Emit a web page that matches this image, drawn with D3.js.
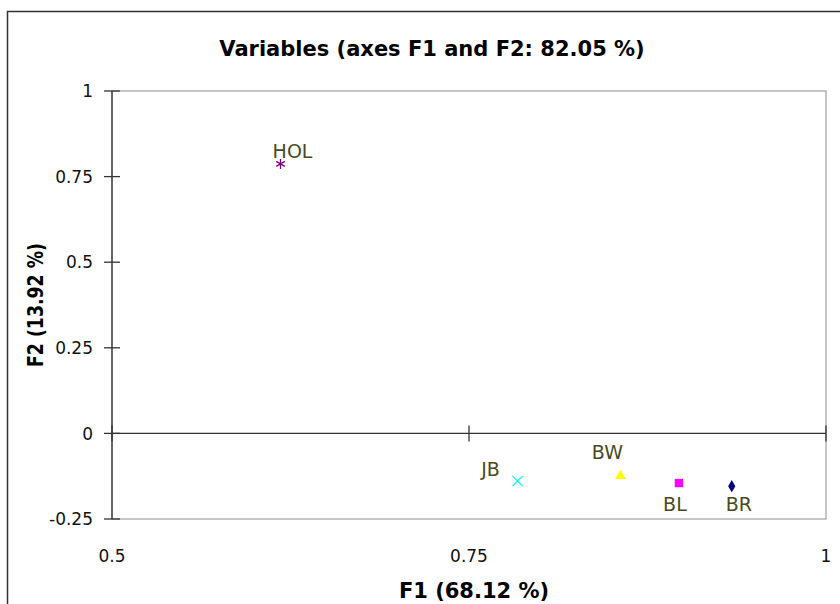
<!DOCTYPE html>
<html>
<head>
<meta charset="utf-8">
<script src="https://cdn.jsdelivr.net/npm/d3@7"></script>
<style>
  body { margin: 0; background: #fff; }
  svg { font-family: "DejaVu Sans", sans-serif; }
</style>
</head>
<body>
<div id="chart"></div>
<script>
const names = ['HOL', 'JB', 'BW', 'BL', 'BR'];
const f1 = [0.618, 0.784, 0.856, 0.897, 0.934];
const f2 = [0.787, -0.139, -0.124, -0.145, -0.154];
const shapes = ['asterisk', 'cross', 'triangle', 'square', 'diamond'];
const colors = ['#800080', '#00ffff', '#ffff00', '#ff00ff', '#000080'];
// label offsets relative to the point
const labelDx = [12, -27, -13, -4, 7];
const labelDy = [-6, -5, -17, 28, 25];

const xTicks = [0.5, 0.75, 1];
const yTicks = [1, 0.75, 0.5, 0.25, 0, -0.25];

const width = 840, height = 604;
const plot = { left: 112, right: 826, top: 91, bottom: 519 };

const svg = d3.select('#chart')
  .append('svg')
  .attr('width', width)
  .attr('height', height);

// outer chart border
svg.append('rect')
  .attr('x', 7.5).attr('y', 11.5)
  .attr('width', 840).attr('height', 600)
  .attr('fill', 'none')
  .attr('stroke', '#333')
  .attr('stroke-width', 1.5);

const x = d3.scaleLinear().domain([0.5, 1]).range([plot.left, plot.right]);
const y = d3.scaleLinear().domain([-0.25, 1]).range([plot.bottom, plot.top]);

// plot area frame
svg.append('rect')
  .attr('x', plot.left).attr('y', plot.top)
  .attr('width', plot.right - plot.left).attr('height', plot.bottom - plot.top)
  .attr('fill', 'none')
  .attr('stroke', '#a0a0a0')
  .attr('stroke-width', 1.2);

const fmt = d => String(d);

// y axis at x = 0.5
const yAxis = svg.append('g').attr('transform', `translate(${plot.left},0)`);
yAxis.append('line')
  .attr('y1', plot.top).attr('y2', plot.bottom)
  .attr('stroke', '#333').attr('stroke-width', 1.3);
yAxis.selectAll('line.tick')
  .data(yTicks)
  .enter().append('line')
  .attr('class', 'tick')
  .attr('x1', -8).attr('x2', 8)
  .attr('y1', d => y(d)).attr('y2', d => y(d))
  .attr('stroke', '#333').attr('stroke-width', 1.3);
yAxis.selectAll('text')
  .data(yTicks)
  .enter().append('text')
  .attr('x', -19)
  .attr('y', d => y(d))
  .attr('dy', '0.36em')
  .attr('text-anchor', 'end')
  .style('font-size', '17px')
  .attr('fill', '#111')
  .text(fmt);

// x axis along F2 = 0
const xAxis = svg.append('g').attr('transform', `translate(0,${y(0)})`);
xAxis.append('line')
  .attr('x1', plot.left).attr('x2', plot.right)
  .attr('stroke', '#333').attr('stroke-width', 1.3);
xAxis.selectAll('line.tick')
  .data(xTicks)
  .enter().append('line')
  .attr('class', 'tick')
  .attr('x1', d => x(d)).attr('x2', d => x(d))
  .attr('y1', -8).attr('y2', 8)
  .attr('stroke', '#333').attr('stroke-width', 1.3);
svg.selectAll('text.xtick')
  .data(xTicks)
  .enter().append('text')
  .attr('class', 'xtick')
  .attr('x', d => x(d))
  .attr('y', plot.bottom + 43)
  .attr('text-anchor', 'middle')
  .style('font-size', '17px')
  .attr('fill', '#111')
  .text(fmt);

// points
const symbolType = {
  asterisk: d3.symbolAsterisk,
  cross: d3.symbolX,
  triangle: d3.symbolTriangle,
  square: d3.symbolSquare,
  diamond: d3.symbolDiamond
};
const pts = svg.append('g')
  .selectAll('g')
  .data(names)
  .enter().append('g')
  .attr('transform', (d, i) => `translate(${x(f1[i])},${y(f2[i])})`);

pts.append('path')
  .attr('d', (d, i) => {
    const s = shapes[i];
    const size = s === 'square' ? 70 : s === 'diamond' ? 45 : s === 'triangle' ? 50 : 70;
    return d3.symbol(symbolType[s], size)();
  })
  .attr('fill', (d, i) => (shapes[i] === 'asterisk' || shapes[i] === 'cross') ? 'none' : colors[i])
  .attr('stroke', (d, i) => colors[i])
  .attr('stroke-width', (d, i) => (shapes[i] === 'asterisk' || shapes[i] === 'cross') ? 1.3 : 0);

pts.append('text')
  .attr('x', (d, i) => labelDx[i])
  .attr('y', (d, i) => labelDy[i])
  .attr('text-anchor', 'middle')
  .style('font-size', '19px')
  .attr('fill', '#4a4a22')
  .text(d => d);

// titles
svg.append('text')
  .attr('x', 432).attr('y', 56)
  .attr('text-anchor', 'middle')
  .style('font-size', '21px')
  .style('font-weight', 'bold')
  .attr('fill', '#000')
  .text('Variables (axes F1 and F2: 82.05 %)');

svg.append('text')
  .attr('x', 474).attr('y', 598)
  .attr('text-anchor', 'middle')
  .style('font-size', '21px')
  .style('font-weight', 'bold')
  .attr('fill', '#000')
  .text('F1 (68.12 %)');

svg.append('text')
  .attr('transform', 'translate(43,305) rotate(-90)')
  .attr('text-anchor', 'middle')
  .attr('textLength', 124)
  .attr('lengthAdjust', 'spacingAndGlyphs')
  .style('font-size', '21px')
  .style('font-weight', 'bold')
  .attr('fill', '#000')
  .text('F2 (13.92 %)');
</script>
</body>
</html>
